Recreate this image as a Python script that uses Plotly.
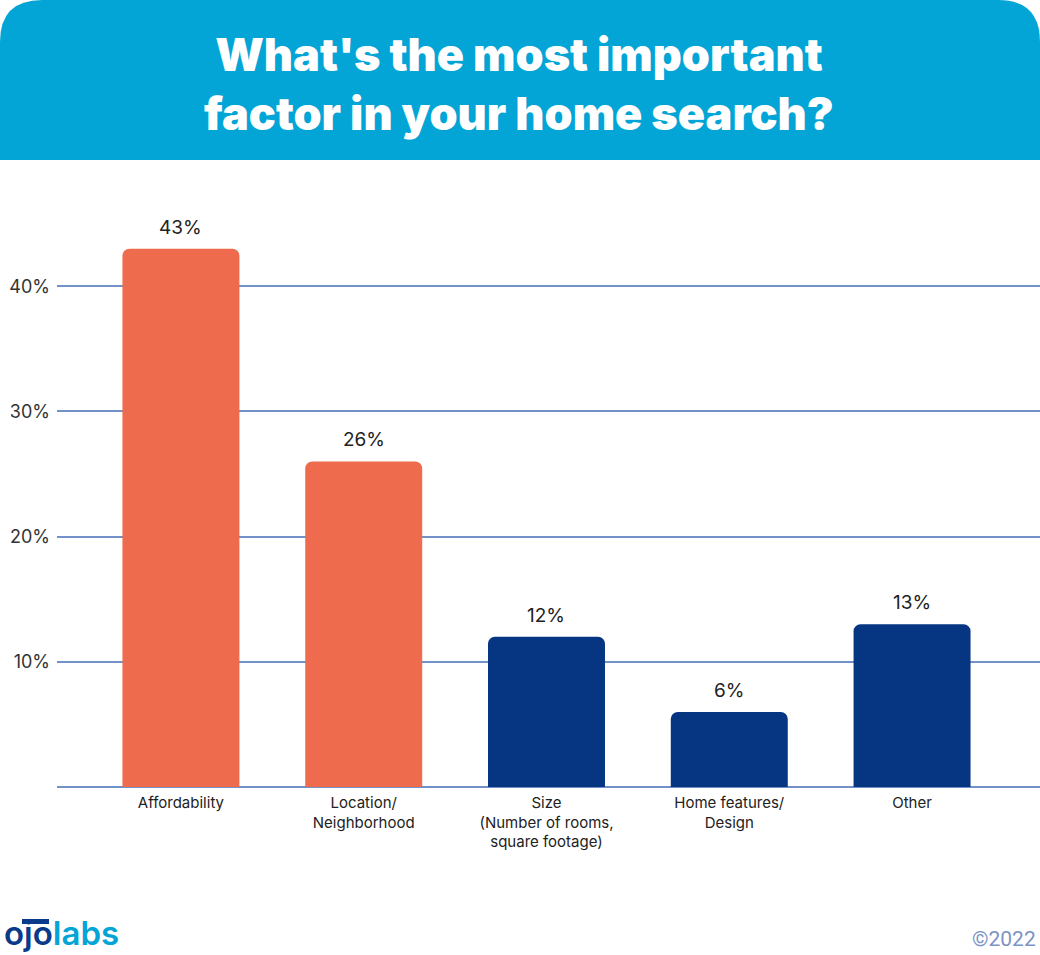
import plotly.graph_objects as go

# ---- data ----
categories = ["Affordability", "Location/<br>Neighborhood",
              "Size<br>(Number of rooms,<br>square footage)",
              "Home features/<br>Design", "Other"]
values = [43, 26, 12, 6, 13]
bar_colors = ["#EE6B4E", "#EE6B4E", "#063682", "#063682", "#063682"]
y_ticks = [10, 20, 30, 40]
y_tick_labels = ["10%", "20%", "30%", "40%"]

W, H = 1040, 955
L, R, T, B = 57, 0, 161, 168
PW, PH = W - L - R, H - T - B

def px(x):
    return (x - L) / PW

def py(y):
    return (H - B - y) / PH

x_idx = list(range(len(categories)))

fig = go.Figure()
fig.add_trace(go.Bar(
    x=x_idx, y=values,
    marker=dict(color=bar_colors, cornerradius=7, line=dict(width=0)),
    width=0.64,
    hoverinfo="skip",
))

for xi, v in zip(x_idx, values):
    fig.add_annotation(x=xi, y=v, text=f"{v}%", showarrow=False,
                       yanchor="bottom", yshift=8,
                       font=dict(size=19, color="#222222", family="Inter"))

# header band with rounded top corners
r = 42
x0, x1 = px(0), px(W)
yb, yt = py(160), py(0)
path = (f"M {x0},{yb} L {x0},{py(r)} Q {x0},{yt} {px(r)},{yt} "
        f"L {px(W - r)},{yt} Q {x1},{yt} {x1},{py(r)} L {x1},{yb} Z")
fig.add_shape(type="path", path=path, xref="paper", yref="paper",
              fillcolor="#03A5D6", line=dict(width=0), layer="below")

fig.add_annotation(xref="paper", yref="paper", x=px(519), y=py(84),
                   text="What's the most important<br>factor in your home search?",
                   showarrow=False, xanchor="center", yanchor="middle",
                   font=dict(size=45, color="white", family="Inter", weight=900))

# logo
fig.add_annotation(xref="paper", yref="paper", x=px(3), y=py(954),
                   text="<span style='color:#0A3A8A'>ojo</span><span style='color:#03A5D6'>labs</span>",
                   showarrow=False, xanchor="left", yanchor="bottom", borderpad=0,
                   font=dict(size=33, family="Inter", weight=600))
fig.add_shape(type="rect", xref="paper", yref="paper",
              x0=px(22), x1=px(49), y0=py(924), y1=py(919),
              fillcolor="#0A3A8A", line=dict(width=0))
fig.add_annotation(xref="paper", yref="paper", x=px(1038), y=py(939),
                   text="©2022", showarrow=False, xanchor="right", yanchor="middle",
                   font=dict(size=21, color="#7D93C4", family="Roboto"))

fig.update_layout(
    width=W, height=H,
    margin=dict(l=L, r=R, t=T, b=B, pad=0),
    paper_bgcolor="white", plot_bgcolor="white",
    showlegend=False,
    bargap=0.36,
    font=dict(family="Inter", color="#222222"),
)
fig.update_xaxes(
    range=[-0.678, 4.70], tickvals=x_idx, ticktext=categories,
    showgrid=False, showline=False, zeroline=False, ticks="",
    tickfont=dict(size=15, color="#222222", family="Inter"),
    ticklabelstandoff=5,
    fixedrange=True,
)
fig.update_yaxes(
    range=[0, 50], tickvals=y_ticks, ticktext=y_tick_labels,
    showgrid=True, gridcolor="#7391C9", gridwidth=2,
    zeroline=True, zerolinecolor="#7391C9", zerolinewidth=2,
    showline=False, ticks="", ticklabelstandoff=6,
    tickfont=dict(size=18, color="#333333", family="Inter"),
    fixedrange=True,
)

fig.write_html(
    "out.html",
    config={"displayModeBar": False},
    post_script="document.body.style.margin='0';document.body.style.overflow='hidden';",
)
